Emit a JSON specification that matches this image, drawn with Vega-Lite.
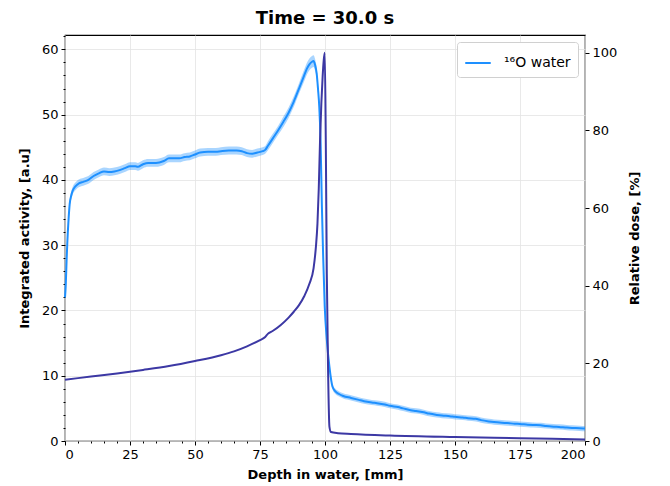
{
  "$schema": "https://vega.github.io/schema/vega-lite/v6.json",
  "width": 520,
  "height": 406,
  "autosize": {"type": "none"},
  "padding": {"left": 65, "top": 35, "right": 85, "bottom": 45},
  "background": "white",
  "title": {"text": "Time = 30.0 s", "fontSize": 18, "fontWeight": "bold", "font": "DejaVu Sans", "color": "black", "frame": "group", "anchor": "middle", "offset": 7},
  "config": {
    "view": {"stroke": "black", "strokeWidth": 1.2},
    "axis": {"labelFont": "DejaVu Sans", "labelFontSize": 13, "labelColor": "black", "tickColor": "black", "titleFont": "DejaVu Sans", "titleFontSize": 13, "titleFontWeight": "bold", "titleColor": "black", "domain": false, "gridColor": "#e3e3e3", "gridWidth": 0.8, "tickSize": 4, "labelPadding": 3}
  },
  "datasets": {
    "act": [
      {"d":0,"a":22.0,"lo":21.5,"hi":22.5},{"d":0.3,"a":24.0,"lo":23.5,"hi":24.5},{"d":0.6,"a":27.5,"lo":27.0,"hi":28.0},{"d":0.9,"a":30.5,"lo":30.0,"hi":31.0},{"d":1.3,"a":33.5,"lo":33.0,"hi":34.0},{"d":1.8,"a":36.3,"lo":35.8,"hi":36.8},{"d":2.4,"a":37.6,"lo":37.0,"hi":38.2},{"d":3,"a":38.4,"lo":37.8,"hi":39.0},{"d":4,"a":39.0,"lo":38.4,"hi":39.6},{"d":5.5,"a":39.5,"lo":38.9,"hi":40.1},{"d":7,"a":39.7,"lo":39.1,"hi":40.3},{"d":9,"a":40.0,"lo":39.4,"hi":40.6},{"d":11,"a":40.6,"lo":40.0,"hi":41.2},{"d":13,"a":41.0,"lo":40.4,"hi":41.6},{"d":15,"a":41.3,"lo":40.7,"hi":41.9},{"d":17,"a":41.2,"lo":40.6,"hi":41.8},{"d":19,"a":41.3,"lo":40.7,"hi":41.9},{"d":21,"a":41.5,"lo":40.9,"hi":42.1},{"d":23,"a":41.8,"lo":41.2,"hi":42.4},{"d":25,"a":42.1,"lo":41.5,"hi":42.7},{"d":27,"a":42.1,"lo":41.5,"hi":42.7},{"d":28,"a":42.0,"lo":41.4,"hi":42.6},{"d":30,"a":42.4,"lo":41.8,"hi":43.0},{"d":32,"a":42.6,"lo":42.0,"hi":43.2},{"d":35,"a":42.6,"lo":42.0,"hi":43.2},{"d":38,"a":42.9,"lo":42.3,"hi":43.5},{"d":40,"a":43.3,"lo":42.7,"hi":43.9},{"d":42,"a":43.3,"lo":42.7,"hi":43.9},{"d":44,"a":43.3,"lo":42.7,"hi":43.9},{"d":46,"a":43.5,"lo":42.9,"hi":44.1},{"d":48,"a":43.6,"lo":43.0,"hi":44.2},{"d":50,"a":43.9,"lo":43.3,"hi":44.5},{"d":52,"a":44.2,"lo":43.6,"hi":44.8},{"d":55,"a":44.3,"lo":43.7,"hi":44.9},{"d":58,"a":44.3,"lo":43.7,"hi":44.9},{"d":60,"a":44.4,"lo":43.8,"hi":45.0},{"d":63,"a":44.5,"lo":43.9,"hi":45.1},{"d":66,"a":44.5,"lo":43.9,"hi":45.1},{"d":68,"a":44.4,"lo":43.8,"hi":45.0},{"d":70,"a":44.1,"lo":43.5,"hi":44.7},{"d":72,"a":44.0,"lo":43.4,"hi":44.6},{"d":74,"a":44.2,"lo":43.6,"hi":44.8},{"d":76,"a":44.4,"lo":43.8,"hi":45.0},{"d":77,"a":44.6,"lo":44.0,"hi":45.2},{"d":78,"a":45.2,"lo":44.5,"hi":45.9},{"d":80,"a":46.4,"lo":45.7,"hi":47.1},{"d":82,"a":47.6,"lo":46.9,"hi":48.3},{"d":84,"a":48.9,"lo":48.1,"hi":49.7},{"d":86,"a":50.3,"lo":49.5,"hi":51.1},{"d":88,"a":52.0,"lo":51.2,"hi":52.8},{"d":90,"a":54.0,"lo":53.2,"hi":54.8},{"d":92,"a":56.0,"lo":55.1,"hi":56.9},{"d":93,"a":57.0,"lo":56.1,"hi":57.9},{"d":94,"a":57.7,"lo":56.8,"hi":58.6},{"d":95,"a":58.1,"lo":57.2,"hi":59.0},{"d":95.6,"a":58.2,"lo":57.3,"hi":59.1},{"d":96.2,"a":57.6,"lo":56.7,"hi":58.5},{"d":96.8,"a":56.3,"lo":55.4,"hi":57.2},{"d":97.3,"a":54.0,"lo":53.2,"hi":54.8},{"d":97.8,"a":51.2,"lo":50.4,"hi":52.0},{"d":98.3,"a":46.0,"lo":45.3,"hi":46.7},{"d":98.8,"a":36.0,"lo":35.4,"hi":36.6},{"d":99.3,"a":28.2,"lo":27.7,"hi":28.7},{"d":99.9,"a":20.6,"lo":20.2,"hi":21.0},{"d":100.7,"a":15.5,"lo":15.1,"hi":15.9},{"d":101.7,"a":11.4,"lo":11.0,"hi":11.8},{"d":102.9,"a":8.3,"lo":7.9,"hi":8.7},{"d":104,"a":7.6,"lo":7.2,"hi":8.0},{"d":105.4,"a":7.2,"lo":6.8,"hi":7.6},{"d":107,"a":6.9,"lo":6.5,"hi":7.3},{"d":110,"a":6.6,"lo":6.2,"hi":7.0},{"d":113,"a":6.3,"lo":5.9,"hi":6.7},{"d":115,"a":6.1,"lo":5.7,"hi":6.5},{"d":118,"a":5.9,"lo":5.5,"hi":6.3},{"d":120,"a":5.8,"lo":5.4,"hi":6.2},{"d":123,"a":5.6,"lo":5.2,"hi":6.0},{"d":125,"a":5.4,"lo":5.0,"hi":5.8},{"d":128,"a":5.2,"lo":4.8,"hi":5.6},{"d":130,"a":5.0,"lo":4.6,"hi":5.4},{"d":133,"a":4.7,"lo":4.3,"hi":5.1},{"d":135,"a":4.6,"lo":4.2,"hi":5.0},{"d":138,"a":4.4,"lo":4.0,"hi":4.8},{"d":140,"a":4.2,"lo":3.8,"hi":4.6},{"d":143,"a":4.0,"lo":3.6,"hi":4.4},{"d":145,"a":3.9,"lo":3.5,"hi":4.3},{"d":148,"a":3.8,"lo":3.4,"hi":4.2},{"d":150,"a":3.7,"lo":3.3,"hi":4.1},{"d":153,"a":3.6,"lo":3.2,"hi":4.0},{"d":155,"a":3.5,"lo":3.1,"hi":3.9},{"d":158,"a":3.4,"lo":3.0,"hi":3.8},{"d":160,"a":3.2,"lo":2.8,"hi":3.6},{"d":163,"a":3.0,"lo":2.6,"hi":3.4},{"d":165,"a":2.9,"lo":2.5,"hi":3.3},{"d":168,"a":2.8,"lo":2.4,"hi":3.2},{"d":170,"a":2.75,"lo":2.35,"hi":3.15},{"d":173,"a":2.65,"lo":2.25,"hi":3.05},{"d":175,"a":2.6,"lo":2.2,"hi":3.0},{"d":178,"a":2.5,"lo":2.1,"hi":2.9},{"d":180,"a":2.45,"lo":2.05,"hi":2.85},{"d":183,"a":2.4,"lo":2.0,"hi":2.8},{"d":185,"a":2.3,"lo":1.9,"hi":2.7},{"d":188,"a":2.2,"lo":1.8,"hi":2.6},{"d":190,"a":2.15,"lo":1.75,"hi":2.55},{"d":193,"a":2.05,"lo":1.65,"hi":2.45},{"d":195,"a":2.0,"lo":1.6,"hi":2.4},{"d":198,"a":1.95,"lo":1.55,"hi":2.35},{"d":200,"a":1.9,"lo":1.5,"hi":2.3}
    ],
    "dose": [
      {"d":0,"v":15.8},{"d":10,"v":16.6},{"d":20,"v":17.4},{"d":30,"v":18.3},{"d":40,"v":19.3},{"d":50,"v":20.6},{"d":60,"v":22.1},{"d":65,"v":23.1},{"d":70,"v":24.4},{"d":75,"v":26.0},{"d":77,"v":26.8},{"d":78,"v":27.6},{"d":80,"v":28.4},{"d":83,"v":29.9},{"d":86,"v":31.8},{"d":88,"v":33.3},{"d":90,"v":35.0},{"d":92,"v":37.3},{"d":94,"v":40.5},{"d":95.6,"v":44.5},{"d":96.5,"v":50},{"d":97.1,"v":56},{"d":97.6,"v":65},{"d":98.1,"v":77.6},{"d":98.6,"v":87},{"d":99.1,"v":94},{"d":99.5,"v":98},{"d":99.9,"v":100},{"d":100.3,"v":77.6},{"d":100.7,"v":43},{"d":101.2,"v":17.5},{"d":101.7,"v":3.7},{"d":102.3,"v":2.3},{"d":105,"v":2.0},{"d":110,"v":1.8},{"d":125,"v":1.4},{"d":150,"v":1.0},{"d":175,"v":0.7},{"d":200,"v":0.4}
    ]
  },
  "layer": [
    {
      "data": {"name": "act"},
      "layer": [
        {
          "mark": {"type": "area", "color": "#1E90FF", "opacity": 0.38, "interpolate": "monotone"},
          "encoding": {
            "x": {"field": "d", "type": "quantitative", "scale": {"domain": [0, 200], "nice": false, "zero": false},
              "axis": {"orient": "bottom", "values": [5,10,15,20,30,35,40,45,55,60,65,70,80,85,90,95,105,110,115,120,130,135,140,145,155,160,165,170,180,185,190,195], "labels": false, "grid": false, "tickSize": 2, "title": null}},
            "y": {"field": "lo", "type": "quantitative", "scale": {"domain": [0, 62.2], "nice": false},
              "axis": {"orient": "left", "values": [2,4,6,8,12,14,16,18,22,24,26,28,32,34,36,38,42,44,46,48,52,54,56,58,62], "labels": false, "grid": false, "tickSize": 2, "title": null}},
            "y2": {"field": "hi"}
          }
        },
        {
          "mark": {"type": "line", "strokeWidth": 2, "interpolate": "monotone"},
          "encoding": {
            "x": {"field": "d", "type": "quantitative", "axis": {"orient": "bottom", "grid": true, "values": [0,25,50,75,100,125,150,175,200], "title": "Depth in water, [mm]", "titlePadding": 7}},
            "y": {"field": "a", "type": "quantitative", "axis": {"orient": "left", "grid": true, "values": [0,10,20,30,40,50,60], "title": "Integrated activity, [a.u]", "titlePadding": 10}},
            "color": {"datum": "¹⁶O water", "type": "nominal", "scale": {"range": ["#1E90FF"]},
              "legend": {"title": null, "orient": "top-right", "offset": 7, "symbolType": "stroke", "symbolSize": 650, "symbolStrokeWidth": 2, "labelFont": "DejaVu Sans", "labelFontSize": 14, "labelColor": "black", "strokeColor": "#d0d0d0", "fillColor": "white", "cornerRadius": 3, "padding": 7, "labelOffset": 12}}
          }
        }
      ],
      "resolve": {"axis": {"x": "independent", "y": "independent"}}
    },
    {
      "data": {"name": "dose"},
      "mark": {"type": "line", "color": "#3c38a4", "strokeWidth": 2, "interpolate": "monotone"},
      "encoding": {
        "x": {"field": "d", "type": "quantitative", "axis": null},
        "y": {"field": "v", "type": "quantitative", "scale": {"domain": [0, 104.6], "nice": false},
          "axis": {"orient": "right", "values": [0,20,40,60,80,100], "grid": false, "title": "Relative dose, [%]", "titleAngle": 270, "titleBaseline": "top", "titlePadding": 12}}
      }
    }
  ],
  "resolve": {"scale": {"y": "independent"}, "axis": {"x": "independent"}}
}
